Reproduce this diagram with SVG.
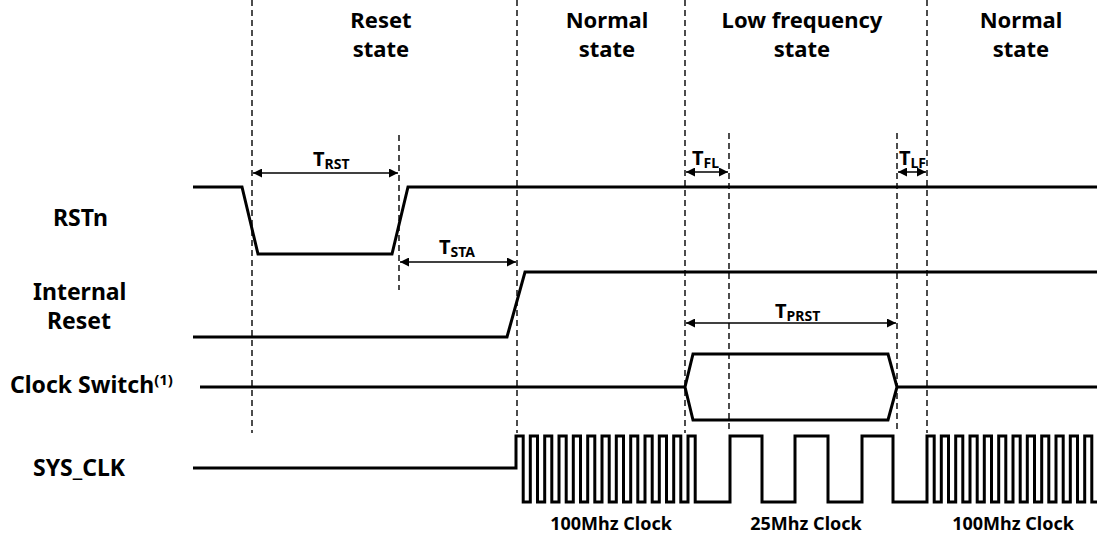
<svg xmlns="http://www.w3.org/2000/svg" width="1097" height="537" viewBox="0 0 1097 537">
<style>
text{font-family:"Noto Sans","Open Sans","Liberation Sans",sans-serif;font-weight:bold;fill:#000}
.hd{font-size:22px;text-anchor:middle}
.lb{font-size:23px}
.ck{font-size:18px;text-anchor:middle}
.tm{font-size:20px}
.sub{font-size:14px}
.sig{fill:none;stroke:#000;stroke-width:3;stroke-linejoin:miter}
.dash{fill:none;stroke:#000;stroke-width:1.4;stroke-dasharray:6,4}
.arr{fill:none;stroke:#000;stroke-width:1.5;marker-start:url(#ah);marker-end:url(#ah)}
</style>
<defs>
<marker id="ah" viewBox="0 0 10 10" refX="10" refY="5" markerWidth="9" markerHeight="9" markerUnits="userSpaceOnUse" orient="auto-start-reverse">
<path d="M0,0 L10,5 L0,10 z" fill="#000"/>
</marker>
</defs>
<g id="state-labels">
<text class="hd" x="381" y="28">Reset</text>
<text class="hd" x="381" y="57">state</text>
<text class="hd" x="607" y="28">Normal</text>
<text class="hd" x="607" y="57">state</text>
<text class="hd" x="802" y="28">Low frequency</text>
<text class="hd" x="802" y="57">state</text>
<text class="hd" x="1021" y="28">Normal</text>
<text class="hd" x="1021" y="57">state</text>
</g>
<g id="signal-names">
<text class="lb" x="53" y="226">RSTn</text>
<text class="lb" x="33" y="300">Internal</text>
<text class="lb" x="47" y="329">Reset</text>
<text class="lb" x="10" y="393">Clock Switch<tspan font-size="15" dy="-8">(1)</tspan></text>
<text class="lb" x="33" y="476">SYS_CLK</text>
</g>
<g id="guides">
<line class="dash" x1="252" y1="0" x2="252" y2="433"/>
<line class="dash" x1="399" y1="135" x2="399" y2="290"/>
<line class="dash" x1="517" y1="0" x2="517" y2="433"/>
<line class="dash" x1="685" y1="0" x2="685" y2="433"/>
<line class="dash" x1="729" y1="133" x2="729" y2="433"/>
<line class="dash" x1="897" y1="133" x2="897" y2="433"/>
<line class="dash" x1="927" y1="0" x2="927" y2="433"/>
</g>
<g id="RSTn">
<path class="sig" d="M193,187 H242 L258,254 H392 L408,187 H1097"/>
</g>
<g id="InternalReset">
<path class="sig" d="M193,337 H507 L525,272 H1097"/>
</g>
<g id="ClockSwitch">
<path class="sig" d="M200,387 H685"/>
<path class="sig" d="M685,387 L693,354 H888 L897,387 L888,420 H693 Z"/>
<path class="sig" d="M897,387 H1097"/>
</g>
<g id="SYS_CLK">
<path class="sig" d="M193,468 H516 V436 H523.2 V502 H530.3 V436 H537.5 V502 H544.7 V436 H551.8 V502 H559 V436 H566.2 V502 H573.3 V436 H580.5 V502 H587.7 V436 H594.8 V502 H602 V436 H609.2 V502 H616.3 V436 H623.5 V502 H630.7 V436 H637.8 V502 H645 V436 H652.2 V502 H659.3 V436 H666.5 V502 H673.7 V436 H680.8 V502 H688 V436 H695.2 V502 H730 V436 H762 V502 H795 V436 H828 V502 H862 V436 H893 V502 H927 V436 H934.2 V502 H941.3 V436 H948.5 V502 H955.7 V436 H962.8 V502 H970 V436 H977.2 V502 H984.3 V436 H991.5 V502 H998.7 V436 H1005.8 V502 H1013 V436 H1020.2 V502 H1027.3 V436 H1034.5 V502 H1041.7 V436 H1048.8 V502 H1056 V436 H1063.2 V502 H1070.3 V436 H1077.5 V502 H1084.7 V436 H1091.8 V502 H1097"/>
<text class="ck" x="611" y="530">100Mhz Clock</text>
<text class="ck" x="806" y="530">25Mhz Clock</text>
<text class="ck" x="1013" y="530">100Mhz Clock</text>
</g>
<g id="connectors">
<line class="arr" x1="253" y1="173" x2="398" y2="173"/>
<line class="arr" x1="400" y1="262" x2="516" y2="262"/>
<line class="arr" x1="686" y1="172" x2="728" y2="172"/>
<line class="arr" x1="898" y1="172" x2="926" y2="172"/>
<line class="arr" x1="686" y1="323" x2="896" y2="323"/>
</g>
<g id="timing-labels">
<text class="tm" x="313" y="166">T<tspan class="sub" dy="3">RST</tspan></text>
<text class="tm" x="439" y="254">T<tspan class="sub" dy="3">STA</tspan></text>
<text class="tm" x="692" y="165">T<tspan class="sub" dy="3">FL</tspan></text>
<text class="tm" x="899" y="165">T<tspan class="sub" dy="3">LF</tspan></text>
<text class="tm" x="775" y="318">T<tspan class="sub" dy="3">PRST</tspan></text>
</g>
</svg>
